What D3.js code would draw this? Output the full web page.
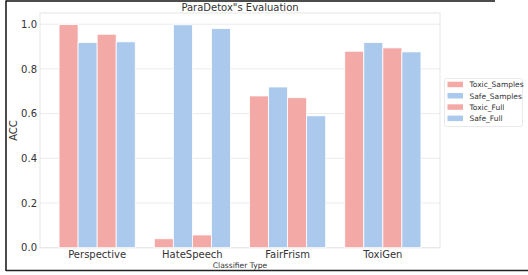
<html>
<head>
<script src="https://d3js.org/d3.v7.js"></script>
<style>
  body { margin: 0; background: #fff; }
  text { font-family: "DejaVu Sans", sans-serif; }
</style>
</head>
<body>
<svg width="528" height="275"></svg>
<script>
var categories = ["Perspective", "HateSpeech", "FairFrism", "ToxiGen"];
var seriesNames = ["Toxic_Samples", "Safe_Samples", "Toxic_Full", "Safe_Full"];
var toxicSamples = [0.998, 0.040, 0.679, 0.879];
var safeSamples = [0.918, 0.997, 0.719, 0.918];
var toxicFull = [0.955, 0.057, 0.671, 0.894];
var safeFull = [0.921, 0.980, 0.590, 0.876];
var yTicks = [0.0, 0.2, 0.4, 0.6, 0.8, 1.0];

var seriesValues = [toxicSamples, safeSamples, toxicFull, safeFull];
var colors = ["#f3aaa7", "#aac9ed", "#f3aaa7", "#aac9ed"];

var svg = d3.select("svg");
var plotL = 40, plotR = 440, plotT = 13, plotB = 247.7;

var x = d3.scaleBand().domain(categories).range([plotL, plotR]).padding(0.2);
var xs = d3.scaleBand().domain(seriesNames).range([0, x.bandwidth()]);
var y = d3.scaleLinear().domain([0, 1.05]).range([plotB, plotT]);

// frame + grid
svg.append("g").selectAll("line").data(yTicks).join("line")
  .attr("x1", plotL).attr("x2", plotR)
  .attr("y1", d => y(d)).attr("y2", d => y(d))
  .style("stroke", "#ebebeb").style("stroke-width", 1);
svg.append("rect")
  .attr("x", plotL).attr("y", plotT).attr("width", plotR - plotL).attr("height", plotB - plotT)
  .style("fill", "none").style("stroke", "#e6e6e6").style("stroke-width", 1);

// bars
var data = [];
categories.forEach(function(c, i) {
  seriesNames.forEach(function(s, j) {
    data.push({cat: c, ser: s, val: seriesValues[j][i], color: colors[j]});
  });
});
svg.append("g").selectAll("rect").data(data).join("rect")
  .attr("x", d => x(d.cat) + xs(d.ser))
  .attr("width", xs.bandwidth())
  .attr("y", d => y(d.val))
  .attr("height", d => y(0) - y(d.val))
  .style("fill", d => d.color)
  .style("stroke", "#fff").style("stroke-width", 0.8);

// axes
var yAxis = svg.append("g").attr("transform", "translate(" + plotL + ",0)")
  .call(d3.axisLeft(y).tickValues(yTicks).tickFormat(d3.format(".1f")).tickSize(0).tickPadding(3));
var xAxis = svg.append("g").attr("transform", "translate(0," + plotB + ")")
  .call(d3.axisBottom(x).tickSize(0).tickPadding(3));
[yAxis, xAxis].forEach(function(a) {
  a.select(".domain").remove();
  a.selectAll("text").style("font-family", "DejaVu Sans").style("font-size", "10px").style("fill", "#333");
});

// titles
svg.append("text").attr("x", 240).attr("y", 11).attr("text-anchor", "middle")
  .style("font-size", "10px").style("fill", "#333").text("ParaDetox\"s Evaluation");
svg.append("text").attr("x", 240).attr("y", 268).attr("text-anchor", "middle")
  .style("font-size", "7.6px").style("fill", "#333").text("Classifier Type");
svg.append("text").attr("transform", "translate(17,130.5) rotate(-90)").attr("text-anchor", "middle")
  .style("font-size", "10px").style("fill", "#333").text("ACC");

// legend
var legend = svg.append("g");
legend.append("rect").attr("x", 444.5).attr("y", 78.5).attr("width", 78).attr("height", 48)
  .attr("rx", 2).style("fill", "#fff").style("stroke", "#e3e3e3").style("stroke-width", 0.8);
var items = legend.selectAll("g.item").data(seriesNames).join("g")
  .attr("transform", (d, i) => "translate(447.5," + (84.5 + i * 11.3) + ")");
items.append("rect").attr("x", 0).attr("y", -2.8).attr("width", 15.5).attr("height", 5.5)
  .style("fill", (d, i) => colors[i]);
items.append("text").attr("x", 22).attr("y", 2.7)
  .style("font-size", "7.5px").style("fill", "#333").text(d => d);

// screenshot border
svg.append("line").attr("x1", 6).attr("x2", 6).attr("y1", 0.5).attr("y2", 271)
  .style("stroke", "#111").style("stroke-width", 1.5);
svg.append("line").attr("x1", 6).attr("x2", 495).attr("y1", 1).attr("y2", 1)
  .style("stroke", "#111").style("stroke-width", 1.5);
svg.append("line").attr("x1", 6).attr("x2", 528).attr("y1", 270.5).attr("y2", 270.5)
  .style("stroke", "#222").style("stroke-width", 1.5);
</script>
</body>
</html>
